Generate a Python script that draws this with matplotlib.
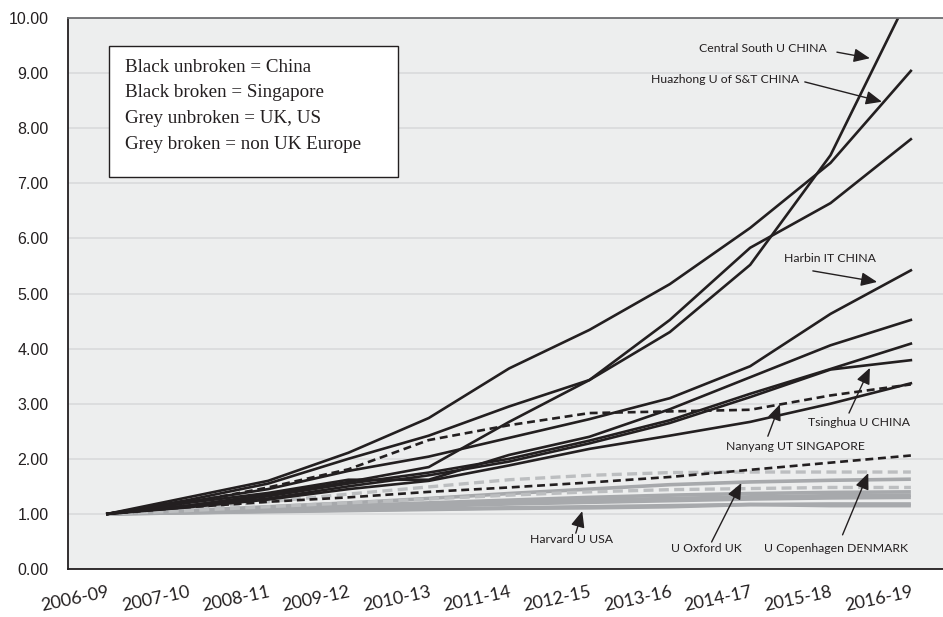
import matplotlib.pyplot as plt
from matplotlib.patches import Rectangle

years = ["2006-09", "2007-10", "2008-11", "2009-12", "2010-13", "2011-14",
         "2012-15", "2013-16", "2014-17", "2015-18", "2016-19"]

# China (black unbroken)
central_south = [1.00, 1.15, 1.35, 1.58, 1.85, 2.67, 3.43, 4.30, 5.52, 7.51, 10.47]
huazhong = [1.00, 1.30, 1.60, 2.11, 2.74, 3.64, 4.34, 5.17, 6.19, 7.37, 9.04]
china_c = [1.00, 1.25, 1.55, 2.00, 2.42, 2.95, 3.43, 4.52, 5.83, 6.64, 7.80]
harbin = [1.00, 1.22, 1.45, 1.78, 2.04, 2.38, 2.72, 3.10, 3.68, 4.63, 5.42]
china_e = [1.00, 1.20, 1.38, 1.62, 1.62, 2.07, 2.40, 2.90, 3.48, 4.06, 4.52]
china_f = [1.00, 1.15, 1.32, 1.55, 1.75, 2.00, 2.33, 2.70, 3.18, 3.63, 4.09]
tsinghua = [1.00, 1.14, 1.28, 1.50, 1.70, 1.95, 2.28, 2.65, 3.12, 3.62, 3.79]
china_h = [1.00, 1.12, 1.26, 1.45, 1.60, 1.88, 2.18, 2.42, 2.67, 3.00, 3.37]

# Singapore (black broken)
nanyang = [1.00, 1.20, 1.48, 1.81, 2.34, 2.61, 2.83, 2.86, 2.89, 3.15, 3.35]
nus = [1.00, 1.12, 1.22, 1.30, 1.40, 1.48, 1.57, 1.67, 1.80, 1.93, 2.06]

# UK, US (grey unbroken)
oxford = [1.00, 1.06, 1.13, 1.20, 1.28, 1.37, 1.45, 1.53, 1.58, 1.61, 1.63]
uk_us_b = [1.00, 1.05, 1.10, 1.15, 1.20, 1.25, 1.30, 1.34, 1.37, 1.39, 1.40]
uk_us_c = [1.00, 1.04, 1.08, 1.12, 1.17, 1.21, 1.25, 1.28, 1.31, 1.33, 1.34]
uk_us_d = [1.00, 1.03, 1.07, 1.10, 1.14, 1.18, 1.21, 1.24, 1.27, 1.29, 1.30]
uk_us_e = [1.00, 1.02, 1.05, 1.07, 1.09, 1.11, 1.13, 1.15, 1.17, 1.18, 1.18]
harvard = [1.00, 1.02, 1.04, 1.06, 1.08, 1.10, 1.11, 1.13, 1.17, 1.15, 1.15]

# non UK Europe (grey broken)
copenhagen = [1.00, 1.10, 1.22, 1.36, 1.49, 1.62, 1.70, 1.75, 1.76, 1.76, 1.76]
europe_b = [1.00, 1.06, 1.13, 1.20, 1.27, 1.34, 1.40, 1.44, 1.46, 1.48, 1.48]

black = "#231f20"
grey = "#a7a9ac"
grey_dash = "#bcbec0"

fig = plt.figure(figsize=(9.43, 6.17), dpi=100)
ax = fig.add_axes([68 / 943, 48 / 617, 875 / 943, 551 / 617])
ax.set_facecolor("#edeeee")

x = list(range(len(years)))

for s in [oxford, uk_us_b, uk_us_c, uk_us_d, uk_us_e, harvard]:
    ax.plot(x, s, color=grey, lw=2.6, solid_capstyle="butt")
for s in [copenhagen, europe_b]:
    ax.plot(x, s, color=grey_dash, lw=2.4, dashes=(3, 1.6))
for s in [central_south, huazhong, china_c, harbin, china_e, china_f, tsinghua, china_h]:
    ax.plot(x, s, color=black, lw=1.9)
for s in [nanyang, nus]:
    ax.plot(x, s, color=black, lw=1.9, dashes=(3, 1.8))

ax.set_xlim(-0.49, 10.40)
ax.set_ylim(0, 10)
ax.set_yticks(range(0, 11))
ax.set_yticklabels([f"{v:.2f}" for v in range(0, 11)], family="Liberation Sans",
                   fontsize=11.5, color="#231f20")
ax.set_xticks(x)
ax.set_xticklabels(years, rotation=12, ha="right", rotation_mode="anchor",
                   family="Lato", fontsize=13, color="#231f20")
ax.tick_params(axis="y", length=0, pad=14)
ax.tick_params(axis="x", length=0, pad=11)
ax.grid(axis="y", color="#d9dadb", lw=1.2)
ax.set_axisbelow(True)
for side in ["left", "bottom"]:
    ax.spines[side].set_color("#231f20")
    ax.spines[side].set_linewidth(1.3)
ax.spines["top"].set_color("#6d6e71")
ax.spines["top"].set_linewidth(1.3)
ax.spines["right"].set_visible(False)

# key box
ax.add_patch(Rectangle((0.047, 0.711), 0.330, 0.238, transform=ax.transAxes,
                       facecolor="white", edgecolor="#231f20", lw=1.0, zorder=5))
key = ["Black unbroken = China", "Black broken = Singapore",
       "Grey unbroken = UK, US", "Grey broken = non UK Europe"]
for i, t in enumerate(key):
    ax.text(0.065, 0.911 - i * 0.0468, t, transform=ax.transAxes, family="Liberation Serif",
            fontsize=13.7, va="center", ha="left", color="#231f20", zorder=6)

# labels with arrows
notes = [
    ("Central South U CHINA", (8.16, 9.44), (9.08, 9.38), (9.49, 9.27)),
    ("Huazhong U of S&T CHINA", (7.69, 8.89), (8.68, 8.84), (9.64, 8.48)),
    ("Harbin IT CHINA", (8.99, 5.64), (8.78, 5.41), (9.58, 5.21)),
    ("Tsinghua U CHINA", (9.35, 2.65), (9.23, 2.83), (9.49, 3.65)),
    ("Nanyang UT SINGAPORE", (8.56, 2.23), (8.22, 2.41), (8.37, 2.99)),
    ("Harvard U USA", (5.78, 0.53), (5.83, 0.65), (5.91, 1.05)),
    ("U Oxford UK", (7.46, 0.38), (7.52, 0.49), (7.89, 1.56)),
    ("U Copenhagen DENMARK", (9.07, 0.38), (9.15, 0.62), (9.47, 1.74)),
]
for label, pos, tail, head in notes:
    ax.text(pos[0], pos[1], label, family="Lato", fontsize=8.8, ha="center",
            va="center", color="#231f20", zorder=7)
    ax.annotate("", xy=head, xytext=tail,
                arrowprops=dict(arrowstyle="-|>,head_length=0.65,head_width=0.28",
                                mutation_scale=15, color="#231f20", lw=1.0,
                                shrinkA=0, shrinkB=0), zorder=7)

fig.savefig("out.png", dpi=100)
